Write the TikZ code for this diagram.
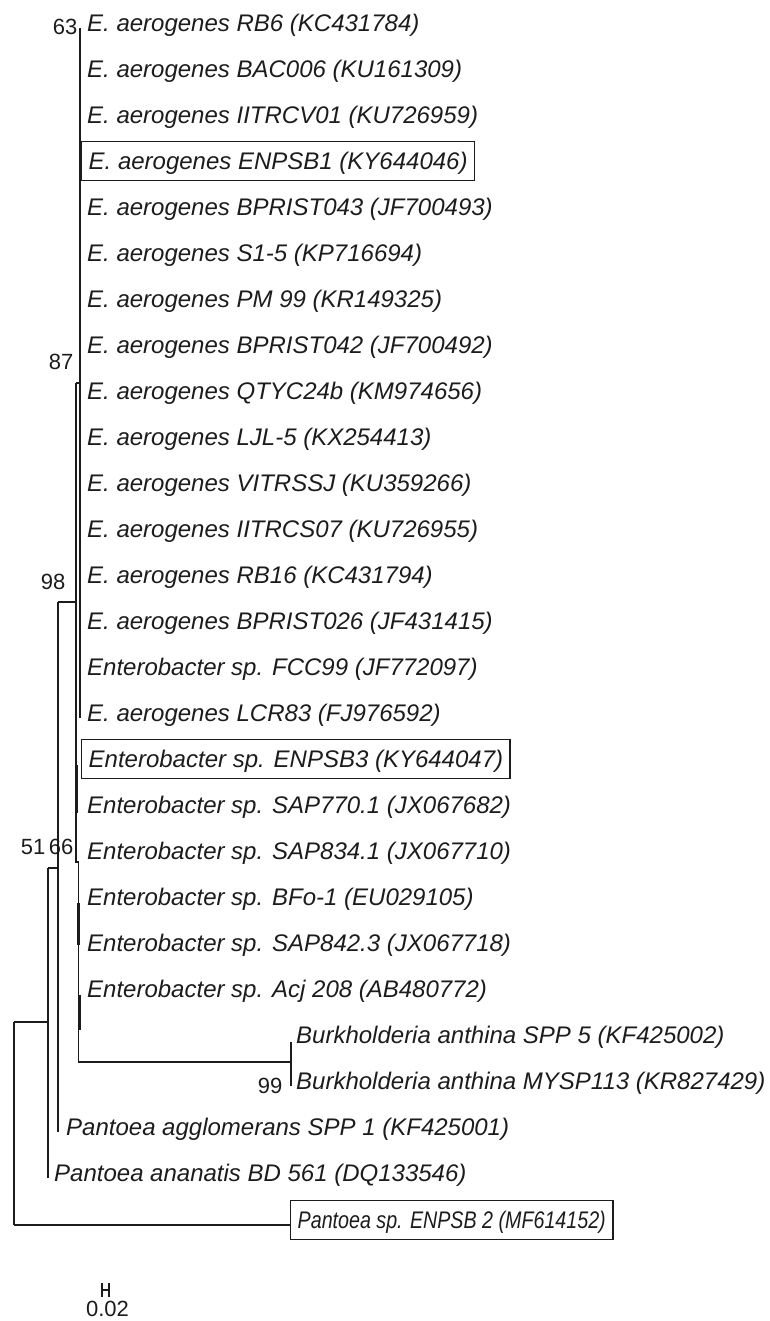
\documentclass[tikz,border=0pt]{standalone}
\usepackage{fontspec}
\newfontfamily\labfont{Liberation Sans}
\newfontfamily\narrowlab[FakeStretch=0.82]{Liberation Sans}
\definecolor{ink}{HTML}{1c1c1c}
\begin{document}
\begin{tikzpicture}[x=1pt,y=-1pt,
  taxon/.style={anchor=west, inner sep=0pt, font=\labfont\itshape\fontsize{24}{28}\selectfont, text=ink, text height=16.5pt, text depth=0pt},
  boxed/.style={taxon, draw=ink, line width=1.4pt, inner xsep=7pt, minimum height=39pt},
  boot/.style={anchor=east, inner sep=0pt, font=\labfont\fontsize{22}{24}\selectfont, text=ink},
  branch/.style={draw=ink, line width=1.3pt},
  fused/.style={draw=ink, line width=3pt}]
\useasboundingbox (0,0) rectangle (769,1321);

% taxa
\node[taxon] (l1) at (87,23) {E. aerogenes RB6 (KC431784)};
\node[taxon] (l2) at (87,69) {E. aerogenes BAC006 (KU161309)};
\node[taxon] (l3) at (87,115) {E. aerogenes IITRCV01 (KU726959)};
\node[boxed] (l4) at (81,161) {E. aerogenes ENPSB1 (KY644046)};
\node[taxon] (l5) at (87,207) {E. aerogenes BPRIST043 (JF700493)};
\node[taxon] (l6) at (87,253) {E. aerogenes S1-5 (KP716694)};
\node[taxon] (l7) at (87,299) {E. aerogenes PM 99 (KR149325)};
\node[taxon] (l8) at (87,345) {E. aerogenes BPRIST042 (JF700492)};
\node[taxon] (l9) at (87,391) {E. aerogenes QTYC24b (KM974656)};
\node[taxon] (l10) at (87,437) {E. aerogenes LJL-5 (KX254413)};
\node[taxon] (l11) at (87,483) {E. aerogenes VITRSSJ (KU359266)};
\node[taxon] (l12) at (87,529) {E. aerogenes IITRCS07 (KU726955)};
\node[taxon] (l13) at (87,575) {E. aerogenes RB16 (KC431794)};
\node[taxon] (l14) at (87,621) {E. aerogenes BPRIST026 (JF431415)};
\node[taxon] (l15) at (87,667) {Enterobacter sp. FCC99 (JF772097)};
\node[taxon] (l16) at (87,713) {E. aerogenes LCR83 (FJ976592)};
\node[boxed] (l17) at (81,759) {Enterobacter sp. ENPSB3 (KY644047)};
\node[taxon] (l18) at (87,805) {Enterobacter sp. SAP770.1 (JX067682)};
\node[taxon] (l19) at (87,851) {Enterobacter sp. SAP834.1 (JX067710)};
\node[taxon] (l20) at (87,897) {Enterobacter sp. BFo-1 (EU029105)};
\node[taxon] (l21) at (87,943) {Enterobacter sp. SAP842.3 (JX067718)};
\node[taxon] (l22) at (87,989) {Enterobacter sp. Acj 208 (AB480772)};
\node[taxon] (l23) at (296,1035) {Burkholderia anthina SPP 5 (KF425002)};
\node[taxon] (l24) at (296,1081) {Burkholderia anthina MYSP113 (KR827429)};
\node[taxon] (l25) at (66,1127) {Pantoea agglomerans SPP 1 (KF425001)};
\node[taxon] (l26) at (54,1173) {Pantoea ananatis BD 561 (DQ133546)};
\node[boxed, font=\narrowlab\itshape\fontsize{24}{28}\selectfont] (l27) at (290,1220) {Pantoea sp. ENPSB 2 (MF614152)};

% internal node coordinates
\coordinate (n63top) at (80,28);
\coordinate (n63bot) at (80,718);
\coordinate (n63) at (80,383);
\coordinate (n87) at (76,383);
\coordinate (n87b) at (76,862);
\coordinate (n66) at (78.5,862);
\coordinate (n66b) at (78.5,1062);
\coordinate (nbk) at (291,1062);
\coordinate (nbkt) at (291,1042);
\coordinate (nbkb) at (291,1086);
\coordinate (n98t) at (58,602);
\coordinate (n98b) at (58,1132);
\coordinate (n51t) at (48,868);
\coordinate (n51b) at (48,1178);
\coordinate (nrt) at (14,1022);
\coordinate (nrb) at (14,1225);
\coordinate (fa1) at (76.6,765);
\coordinate (fa2) at (76.6,813);
\coordinate (fb1) at (78,903);
\coordinate (fb2) at (78,945);
\coordinate (fc1) at (79.5,995);
\coordinate (fc2) at (79.5,1030);

% branches
\draw[branch] (n63top) -- (n63bot);
\draw[branch] (n87) -- (n63);
\draw[branch] (n87) -- (n87b) -- (n66) -- (n66b) -- (nbk);
\draw[branch] (nbkt) -- (nbkb);
\draw[branch] (n98t) -- (n98b);
\draw[branch] (n98t) -- (n87 |- n98t);
\draw[branch] (n51t) -- (n51b);
\draw[branch] (n51t) -- (n98t |- n51t);
\draw[branch] (nrt) -- (nrb);
\draw[branch] (nrt) -- (n51t |- nrt);
\draw[branch] (nrb) -- (nrb -| l27.west);
\draw[fused] (fa1) -- (fa2);
\draw[fused] (fb1) -- (fb2);
\draw[fused] (fc1) -- (fc2);

% bootstrap values
\node[boot] (b63) at (77.5,27) {63};
\node[boot] (b87) at (73.5,362) {87};
\node[boot] (b98) at (65.5,582) {98};
\node[boot] (b51) at (45.5,847) {51};
\node[boot] (b66) at (73.5,847) {66};
\node[boot] (b99) at (282.5,1086) {99};

% scale bar
\coordinate (sbl) at (102,1290);
\coordinate (sbr) at (109,1290);
\draw[branch, line width=1.2pt] (sbl) -- (sbr);
\draw[branch, line width=1.2pt] ([yshift=-7pt]sbl) -- ([yshift=7pt]sbl);
\draw[branch, line width=1.2pt] ([yshift=-7pt]sbr) -- ([yshift=7pt]sbr);
\node[boot, anchor=center] (sblab) at (107.5,1309) {0.02};
\end{tikzpicture}
\end{document}
